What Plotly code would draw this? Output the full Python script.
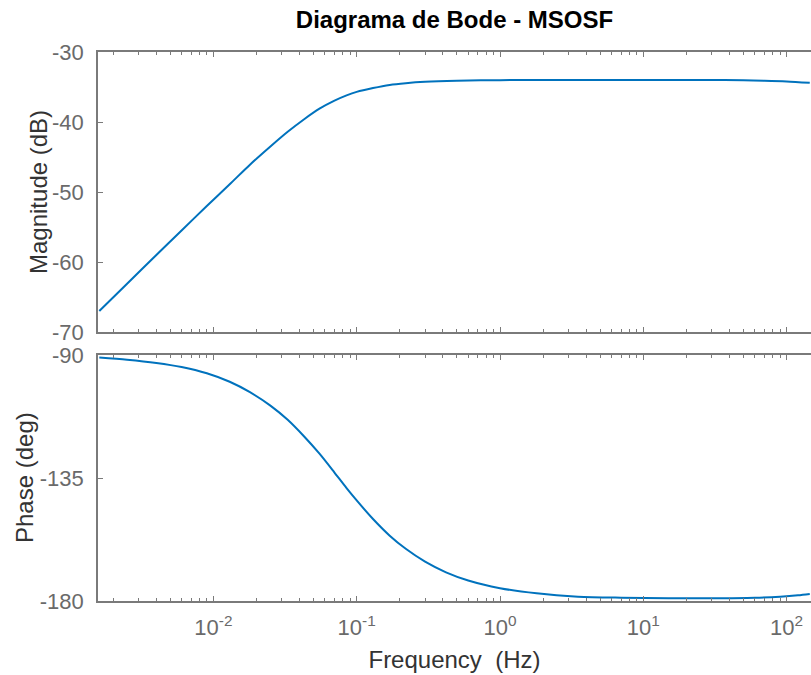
import plotly.graph_objects as go

# ---- data ----
freq_mag = [0.0016, 0.0025, 0.004, 0.006, 0.009, 0.013, 0.018, 0.025, 0.033, 0.043,
            0.055, 0.07, 0.085, 0.1, 0.13, 0.17, 0.22, 0.3, 0.5, 1, 3, 10, 30, 50,
            70, 100, 145]
mag_db = [-67.0, -63.1, -59.0, -55.5, -52.0, -48.9, -46.1, -43.5, -41.4, -39.6,
          -38.1, -36.95, -36.2, -35.7, -35.15, -34.7, -34.45, -34.25, -34.1, -34.02, -34.0, -34.0, -34.0, -34.05,
          -34.1, -34.2, -34.4]

freq_ph = [0.0016, 0.0025, 0.004, 0.006, 0.009, 0.013, 0.018, 0.025, 0.033, 0.043,
           0.055, 0.07, 0.085, 0.1, 0.13, 0.17, 0.22, 0.3, 0.42, 0.6,
           1, 1.8, 3.5, 7, 15, 30, 60, 90, 120, 145]
phase_deg = [-90.9, -91.7, -92.9, -94.4, -96.7, -99.8, -103.6, -108.5, -113.7, -119.8,
             -126.1, -133.0, -138.7, -143.2, -150.0, -156.1, -160.9, -165.6, -169.5, -172.5,
             -175.3, -177.2, -178.4, -178.8, -179.0, -179.0, -178.8, -178.4, -177.9, -177.4]

x_tickvals = [0.01, 0.1, 1, 10, 100]
x_ticktext = ["10<sup>-2</sup>", "10<sup>-1</sup>", "10<sup>0</sup>", "10<sup>1</sup>", "10<sup>2</sup>"]
mag_tickvals = [-70, -60, -50, -40, -30]
mag_ticktext = ["-70", "-60", "-50", "-40", "-30"]
ph_tickvals = [-180, -135, -90]
ph_ticktext = ["-180", "-135", "-90"]

title_text = "Diagrama de Bode - MSOSF"
xlabel = "Frequency\u00a0 (Hz)"
ylabel_mag = "Magnitude (dB)"
ylabel_ph = "Phase (deg)"

# ---- styling ----
W, H = 811, 675
ML, MR, MT, MB = 98, 0, 52, 74
plot_w = W - ML - MR
plot_h = H - MT - MB
top_lo = (H - MB - 332) / plot_h
bot_hi = (H - MB - 355) / plot_h

line_color = "#0072BD"
axis_color = "#7a7a7a"
FONT = "Liberation Sans, Arial, sans-serif"
tick_font = dict(family=FONT, size=22, color="#6a6a6a")
label_font = dict(family=FONT, size=24, color="#333333")

fig = go.Figure()
fig.add_trace(go.Scatter(x=freq_mag, y=mag_db, mode="lines",
                         line=dict(color=line_color, width=2, shape="spline", smoothing=0.8),
                         xaxis="x", yaxis="y", showlegend=False))
fig.add_trace(go.Scatter(x=freq_ph, y=phase_deg, mode="lines",
                         line=dict(color=line_color, width=2, shape="spline", smoothing=0.8),
                         xaxis="x2", yaxis="y2", showlegend=False))

xcommon = dict(type="log", range=[-2.805, 2.170], showgrid=False, zeroline=False, automargin=False,
               showline=True, linecolor=axis_color, linewidth=1.5, mirror="ticks",
               ticks="inside", ticklen=5, tickwidth=1.2, tickcolor=axis_color,
               tickvals=x_tickvals, ticktext=x_ticktext, ticklabelstandoff=6,
               minor=dict(ticks="inside", ticklen=3, tickwidth=1.2, tickcolor=axis_color,
                          dtick="D1", showgrid=False),
               tickfont=tick_font)

ycommon = dict(showgrid=False, zeroline=False, showline=True, linecolor=axis_color, linewidth=1.5,
               ticks="inside", ticklen=5, tickwidth=1.2, tickcolor=axis_color, tickfont=tick_font,
               ticklabelstandoff=8, automargin=False)

fig.update_layout(
    width=W, height=H, margin=dict(l=ML, r=MR, t=MT, b=MB, autoexpand=False),
    paper_bgcolor="white", plot_bgcolor="white",
    title=dict(text="<b>" + title_text + "</b>", x=(ML + plot_w / 2) / W, xanchor="center",
               y=(H - 20) / H, yanchor="middle", yref="container",
               font=dict(family=FONT, size=24, color="#000000")),
    xaxis=dict(xcommon, anchor="y", domain=[0, 1], showticklabels=False),
    xaxis2=dict(xcommon, anchor="y2", domain=[0, 1], matches="x",
                title=dict(text=xlabel, font=label_font, standoff=12)),
    yaxis=dict(ycommon, domain=[top_lo, 1], range=[-70, -30], tickvals=mag_tickvals, ticktext=mag_ticktext),
    yaxis2=dict(ycommon, domain=[0, bot_hi], range=[-180, -90], tickvals=ph_tickvals, ticktext=ph_ticktext),
    annotations=[
        dict(text=ylabel_mag, font=label_font, textangle=-90, showarrow=False,
             xref="paper", x=0, xshift=-(ML - 38), xanchor="center",
             yref="paper", y=(top_lo + 1) / 2, yanchor="middle"),
        dict(text=ylabel_ph, font=label_font, textangle=-90, showarrow=False,
             xref="paper", x=0, xshift=-(ML - 24), xanchor="center",
             yref="paper", y=bot_hi / 2, yanchor="middle"),
    ],
)

fig.write_html("out.html", config={"displayModeBar": False},
               post_script="document.body.style.margin='0px';")
